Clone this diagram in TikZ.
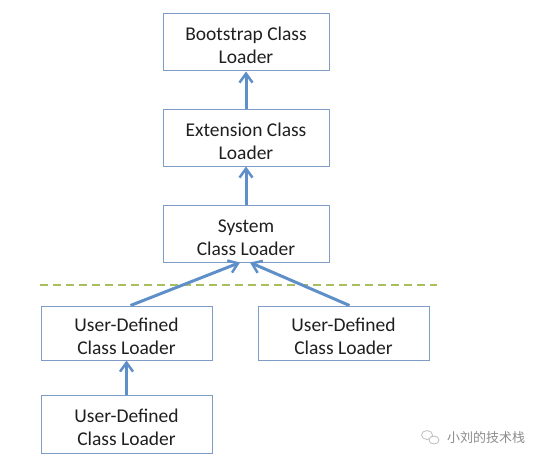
\documentclass[tikz,border=0pt]{standalone}
\usepackage{fontspec}
\setmainfont{Carlito}
\newfontfamily\cjk{Noto Sans CJK SC}
\usetikzlibrary{arrows.meta,shapes.geometric}
\definecolor{boxline}{HTML}{7E9CC4}
\definecolor{arrowblue}{HTML}{5F8FC8}
\definecolor{dashgreen}{HTML}{A8BF5E}
\begin{document}
\begin{tikzpicture}[x=1pt,y=-1pt,
  loader/.style={draw=boxline,line width=1pt,minimum width=166pt,minimum height=57pt,
    align=center,font=\fontsize{19.5}{23}\selectfont,text=black!88,inner sep=0pt,
    text height=46pt,text depth=3pt},
  upl/.style={-{Straight Barb[length=9pt,width=13pt,line width=2.5pt]},draw=arrowblue,line width=3pt}]
\useasboundingbox (0,0) rectangle (545,465);
\node[loader] (boot) at (246,42.5) {Bootstrap Class\\Loader};
\node[loader,minimum height=56pt] (ext) at (246,138) {Extension Class\\Loader};
\node[loader] (sys) at (246,233.5) {System\\Class Loader};
\node[loader,minimum width=171pt,minimum height=54pt] (ud1) at (126.5,333) {User-Defined\\Class Loader};
\node[loader,minimum width=171pt,minimum height=54pt] (ud2) at (343.5,333) {User-Defined\\Class Loader};
\node[loader,minimum width=171pt,minimum height=58pt] (ud3) at (126.5,424) {User-Defined\\Class Loader};
\coordinate (dl) at (40,285);
\coordinate (dr) at (437,285);
\draw[dashgreen,line width=2.5pt,dash pattern=on 8pt off 5pt] (dl) -- (dr);
\draw[upl] (ext.north) -- (boot.south);
\draw[upl] (sys.north) -- (ext.south);
\draw[upl] ([xshift=4pt]ud1.north) -- ([xshift=-6pt]sys.south);
\draw[upl] ([xshift=6pt]ud2.north) -- ([xshift=4pt]sys.south);
\draw[upl] (ud3.north) -- (ud1.south);
\node[draw=black!25,line width=0.8pt,ellipse,minimum width=11pt,minimum height=9pt,inner sep=0pt] (ic1) at (427,435) {};
\node[draw=black!25,line width=0.8pt,fill=white,ellipse,minimum width=10pt,minimum height=8pt,inner sep=0pt] (ic2) at (434,440) {};
\node[font=\cjk\fontsize{13}{15}\selectfont,text=black!45,anchor=west,inner sep=0pt] (wm) at (447,438) {小刘的技术栈};
\end{tikzpicture}
\end{document}
